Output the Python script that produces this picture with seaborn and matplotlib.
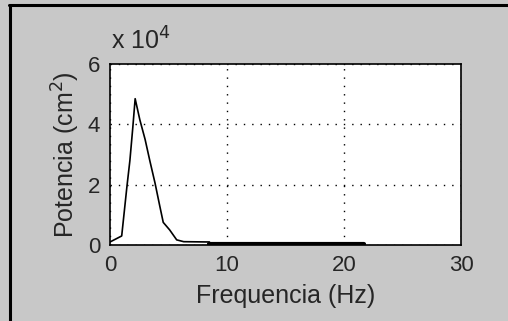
import pandas as pd
import matplotlib
matplotlib.use("Agg")
import matplotlib.pyplot as plt
import seaborn as sns
from matplotlib.lines import Line2D

# Espectro de potencia (valores em unidades de 10^4 cm^2)
freq = [0.0, 0.5, 1.0, 1.15, 1.45, 1.7, 1.95, 2.15, 2.55, 3.0, 3.4, 3.85,
        4.25, 4.55, 5.1, 5.7, 6.3, 8.5]
power = [0.1, 0.2, 0.3, 0.85, 1.95, 2.8, 3.9, 4.85, 4.15, 3.5, 2.8, 2.05,
         1.3, 0.75, 0.5, 0.17, 0.11, 0.1]
# cauda quase nula (linha grossa)
freq_tail = [8.5, 21.7]
power_tail = [0.03, 0.03]

xticks = [0, 10, 20, 30]
yticks = [0, 2, 4, 6]

sns.set_style("white")
plt.rcParams['font.family'] = ['Liberation Sans', 'DejaVu Sans']

bg = '#c8c8c8'
fig = plt.figure(figsize=(5.08, 3.21), dpi=100, facecolor=bg)
ax = fig.add_axes([110/508, 1 - 245/321, 351/508, 181/321])
ax.set_facecolor('white')

df = pd.DataFrame({'f': freq, 'p': power})
df_tail = pd.DataFrame({'f': freq_tail, 'p': power_tail})
sns.lineplot(data=df, x='f', y='p', ax=ax, color='black', linewidth=1.2, sort=False)
sns.lineplot(data=df_tail, x='f', y='p', ax=ax, color='black', linewidth=3, sort=False)

ax.set_xlim(0, 30)
ax.set_ylim(0, 6)
ax.set_xticks(xticks)
ax.set_yticks(yticks)
ax.set_xticklabels([str(t) for t in xticks], fontsize=16)
ax.set_yticklabels([str(t) for t in yticks], fontsize=16)
ax.tick_params(direction='in', length=4, width=0.8, color='black', pad=7)
ax.grid(True, color='black', linestyle=(0, (1, 5)), linewidth=1.0)

for s in ax.spines.values():
    s.set_color('black')
    s.set_linewidth(1.2)

ax.set_xlabel('Frequencia (Hz)', fontsize=18, labelpad=6)
ax.set_ylabel('Potencia (cm$^2$)', fontsize=18, labelpad=4)

fig.text(111/508, 1 - 50/321, 'x 10$^4$', fontsize=18, ha='left', va='baseline')

# moldura da figura (so esquerda e topo)
fig.add_artist(Line2D([9.5/508, 9.5/508], [0, 1 - 5/321], color='black',
                      linewidth=2.2, transform=fig.transFigure))
fig.add_artist(Line2D([8.5/508, 1], [1 - 5/321, 1 - 5/321], color='black',
                      linewidth=2.2, transform=fig.transFigure))

fig.savefig('out.png', dpi=100, facecolor=bg)
